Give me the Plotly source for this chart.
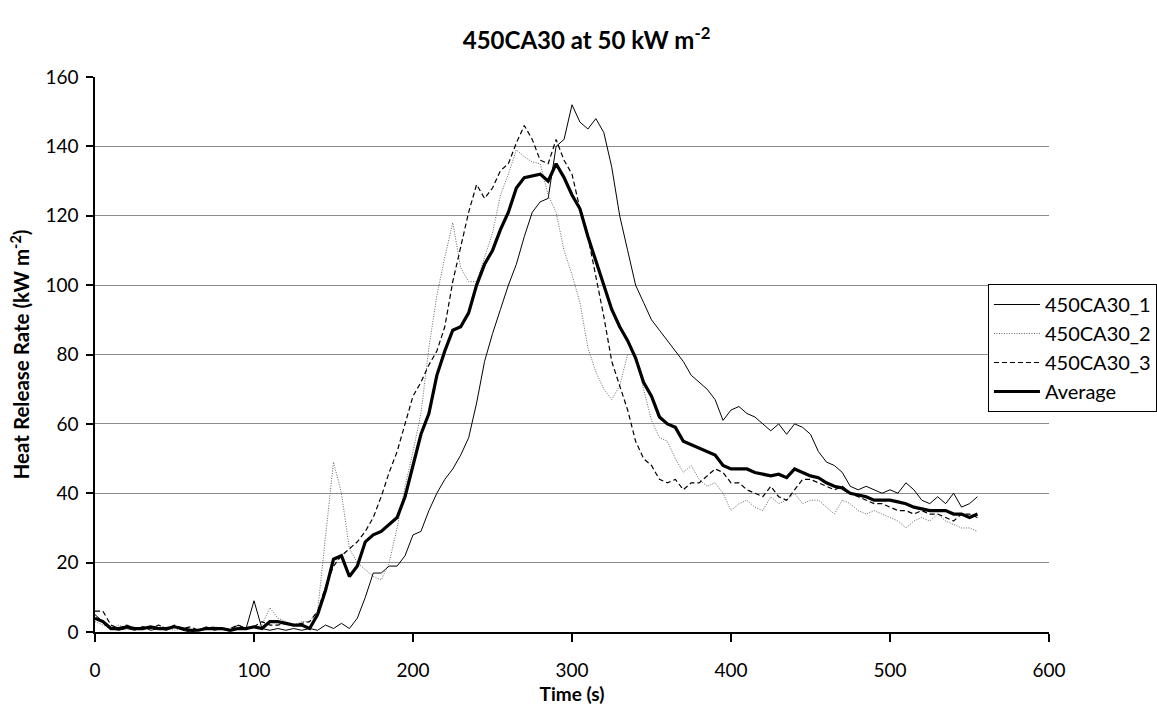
import plotly.graph_objects as go

# time axis (s)
time_s = list(range(0, 560, 5))

hrr_1 = [5, 3, 1, 0.5, 1, 0.5, 1.5, 0.5, 1, 0.5,
         1.5, 0.5, 0, 0.5, 1.5, 0.5, 1, 0.5, 2, 1,
         9, 1, 0.5, 1, 0.5, 1, 0.5, 1, 0.5, 2,
         1, 2.5, 1, 4, 10, 17, 17, 19, 19, 22,
         28, 29, 35, 40, 44, 47, 51, 56, 66, 78,
         86, 93, 100, 106, 114, 121, 124, 125, 140, 142,
         152, 147, 145, 148, 144, 134, 120, 110, 100, 95,
         90, 87, 84, 81, 78, 74, 72, 70, 67, 61,
         64, 65, 63, 62, 60, 58, 60, 57, 60, 59,
         57, 52, 49, 48, 46, 42, 41, 42, 41, 40,
         41, 40, 43, 41, 38, 37, 39, 37, 40, 36,
         37, 39]

hrr_2 = [3, 2, 1, 2, 1, 0.5, 1.5, 1, 2, 1,
         0.5, 1, 0.5, 0.5, 1, 1.5, 1, 0.5, 1.5, 1,
         1, 2, 7, 4, 3, 2, 3, 3, 6, 28,
         49, 40, 24, 20, 18, 16, 15, 20, 30, 42,
         52, 63, 82, 97, 108, 118, 105, 101, 101, 108,
         115, 126, 132, 139, 137, 135.5, 135, 126, 121, 110,
         103, 95, 82, 75, 70, 67, 71, 80, 80, 70,
         61, 56, 55, 50, 46, 48, 44, 42, 43, 40,
         35, 37, 38, 36, 35, 39, 37, 38, 40, 37,
         38, 38, 36, 34, 38, 37, 35, 34, 35, 34,
         33, 32, 30, 32, 33, 32, 34, 32, 31, 30,
         30, 29]

hrr_3 = [6, 6, 2, 1, 2, 1, 1.5, 1, 2, 1,
         2, 1, 1.5, 0.5, 1, 1.5, 0.5, 1, 2, 1,
         1.5, 3, 2, 2, 2.5, 2, 2.5, 3, 6, 13,
         19, 22, 24, 26, 29, 33, 39, 46, 52, 60,
         68, 72, 77, 81, 88, 101, 111, 121, 129, 125,
         128, 133, 135, 141, 146, 142, 136, 135, 142, 136,
         132, 122, 114, 103, 91, 78, 71, 64, 55, 50,
         48, 44, 43, 44, 41, 43, 43, 45, 47, 46,
         43, 43, 41, 40, 39, 42, 39, 38, 41, 44,
         44, 43, 42, 41, 42, 40, 39, 38, 37, 37,
         36, 35, 35, 34, 35, 34, 34, 33, 32, 34,
         34, 33]

hrr_avg = [4, 3, 1, 1, 1.5, 1, 1, 1.5, 1, 1,
           1.5, 1, 0.5, 0.5, 1, 1, 1, 0.5, 1, 1,
           1.5, 1, 3, 3, 2.5, 2, 2, 1, 5, 12,
           21, 22, 16, 19, 26, 28, 29, 31, 33, 39,
           48, 57, 63, 74, 81, 87, 88, 92, 100, 106,
           110, 116, 121, 128, 131, 131.5, 132, 130, 135, 131,
           126, 122, 114, 107, 100, 93, 88, 84, 79, 72,
           68, 62, 60, 59, 55, 54, 53, 52, 51, 48,
           47, 47, 47, 46, 45.5, 45, 45.5, 44.5, 47, 46,
           45, 44.5, 43, 42, 41.5, 40, 39.5, 39, 38, 38,
           38, 37.5, 37, 36, 35.5, 35, 35, 35, 34, 34,
           33, 34]

series_names = ["450CA30_1", "450CA30_2", "450CA30_3", "Average"]

x_ticks = [0, 100, 200, 300, 400, 500, 600]
y_ticks = [0, 20, 40, 60, 80, 100, 120, 140, 160]

FONT = "Lato, 'Open Sans', sans-serif"

fig = go.Figure()
fig.add_trace(go.Scatter(x=time_s, y=hrr_1, name=series_names[0], mode="lines",
                         line=dict(color="black", width=1)))
fig.add_trace(go.Scatter(x=time_s, y=hrr_2, name=series_names[1], mode="lines",
                         line=dict(color="#666666", width=1, dash="1px,1.5px")))
fig.add_trace(go.Scatter(x=time_s, y=hrr_3, name=series_names[2], mode="lines",
                         line=dict(color="black", width=1.2, dash="5px,3px")))
fig.add_trace(go.Scatter(x=time_s, y=hrr_avg, name=series_names[3], mode="lines",
                         line=dict(color="black", width=3.2)))

fig.update_layout(
    width=1157, height=708,
    margin=dict(l=95, r=108, t=77, b=76, autoexpand=False),
    paper_bgcolor="white", plot_bgcolor="white",
    font=dict(family=FONT, size=19, color="black"),
    title=dict(text="<b>450CA30 at 50 kW m<sup>-2</sup></b>",
               x=0.507, xanchor="center", y=0.943, yanchor="middle",
               font=dict(size=24, family=FONT)),
    showlegend=True,
    legend=dict(x=0.936, xanchor="left", y=0.627, yanchor="top",
                bgcolor="white", bordercolor="black", borderwidth=1,
                font=dict(size=20, family=FONT), tracegroupgap=0,
                itemwidth=46),
    xaxis=dict(range=[0, 600], tickvals=x_ticks, showgrid=False, zeroline=False,
               showline=True, linecolor="black", linewidth=1.5,
               ticks="outside", ticklen=8, tickcolor="black", tickwidth=1.5,
               title=dict(text="<b>Time (s)</b>", font=dict(size=19), standoff=8),
               automargin=False, ticklabelstandoff=12),
    yaxis=dict(range=[0, 160], tickvals=y_ticks, showgrid=True, gridcolor="#8c8c8c",
               gridwidth=1, zeroline=False,
               showline=True, linecolor="black", linewidth=1.5,
               ticks="outside", ticklen=7, tickcolor="black", tickwidth=1.5,
               title=dict(text="<b>Heat Release Rate (kW m<sup>-2</sup>)</b>",
                          font=dict(size=20.5), standoff=10),
               automargin=False, ticklabelstandoff=4),
)

fig.write_html("out.html")
